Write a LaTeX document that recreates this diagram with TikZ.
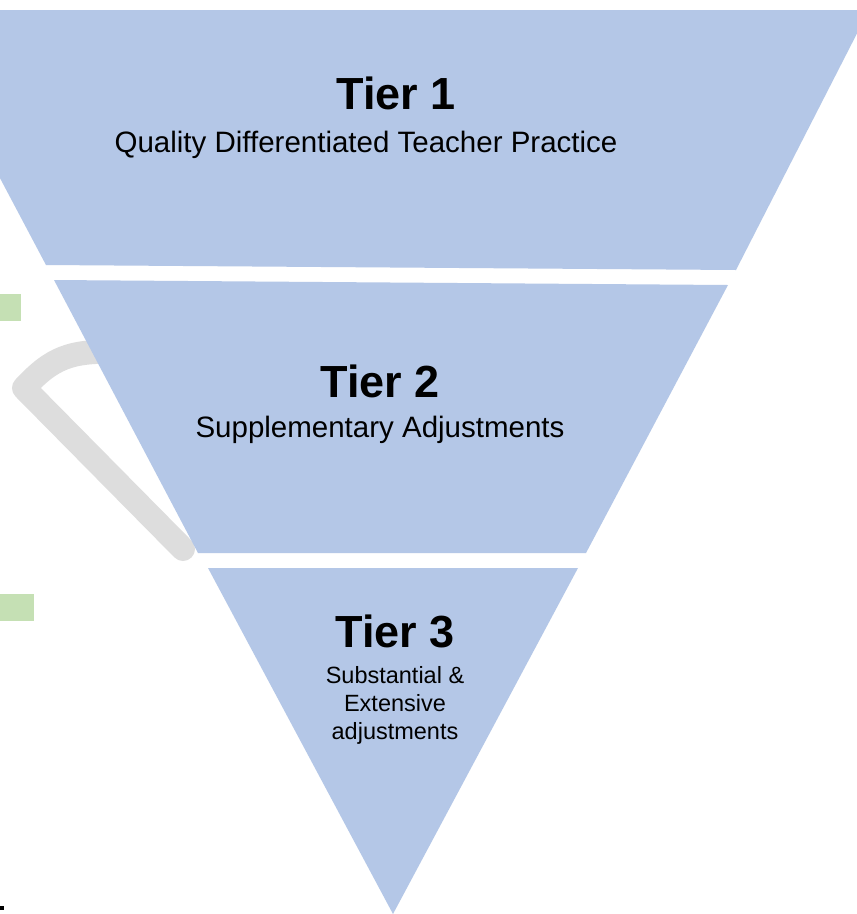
\documentclass[tikz,border=0pt]{standalone}
\usepackage{fontspec}
\setmainfont{Liberation Sans}
\definecolor{tierblue}{RGB}{180,199,231}
\definecolor{tiergreen}{RGB}{197,224,180}
\definecolor{loopgray}{RGB}{221,221,221}
\begin{document}
\begin{tikzpicture}[x=1pt,y=-1pt,
  tier/.style={fill=tierblue,draw=none},
  marker/.style={fill=tiergreen,draw=none},
  tiertitle/.style={anchor=base,inner sep=0pt,font=\fontsize{45}{50}\selectfont\bfseries},
  tiertext/.style={anchor=base,inner sep=0pt,font=\fontsize{29.5}{33}\selectfont},
  tiersmall/.style={anchor=base,inner sep=0pt,font=\fontsize{23.5}{28}\selectfont,align=center},
  loop/.style={draw=loopgray,line width=24pt,line cap=round,line join=round}]
\useasboundingbox (0,0) rectangle (857,914);
\fill[white] (0,0) rectangle (857,914);
\clip (0,0) rectangle (857,914);

% small markers on the left
\fill[marker] (0,294) rectangle (21,321);
\fill[marker] (0,594) rectangle (34,621);
\fill[black] (0,906) rectangle (4,910);

% feedback loop behind the second tier
\coordinate (loopstart) at (120,352);
\coordinate (loopcorner) at (24,388);
\coordinate (loopend) at (183,549);
\draw[loop] (loopstart) .. controls (70,350) and (52,358) .. (loopcorner) -- (loopend);

% the three tiers of the funnel
\fill[tier] (-89,10) -- (869,10) -- (736,270) -- (46,265) -- cycle;
\fill[tier] (54,280) -- (728,285) -- (586,553) -- (198,553) -- cycle;
\fill[tier] (208,568) -- (578,568) -- (393,914) -- cycle;

% labels
\node[tiertitle] (t1) at (396,109) {Tier 1};
\node[tiertext] (s1) at (366,152) {Quality Differentiated Teacher Practice};
\node[tiertitle] (t2) at (380,397) {Tier 2};
\node[tiertext] (s2) at (380,437) {Supplementary Adjustments};
\node[tiertitle] (t3) at (395,647) {Tier 3};
\node[tiersmall] (s3a) at (395,683) {Substantial \&};
\node[tiersmall] (s3b) at (395,711) {Extensive};
\node[tiersmall] (s3c) at (395,739) {adjustments};
\end{tikzpicture}
\end{document}
